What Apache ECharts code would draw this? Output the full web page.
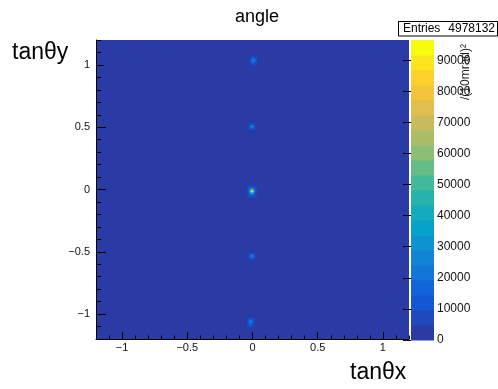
<!DOCTYPE html>
<html>
<head>
<meta charset="utf-8">
<script src="https://cdn.jsdelivr.net/npm/echarts@6/dist/echarts.min.js"></script>
<style>
  html, body { margin: 0; padding: 0; background: #fff; }
  #chart { width: 498px; height: 389px; }
</style>
</head>
<body>
<div id="chart"></div>
<script>
// --- datos del histograma (bins de 10 mrad) ---
const BIN = 0.01;
const ZMAX = 96500;
const N_CONTOURS = 20;
const ENTRIES = "4978132";

const xMajorTicks = [-1, -0.5, 0, 0.5, 1];
const yMajorTicks = [-1, -0.5, 0, 0.5, 1];
const zTicks = [0, 10000, 20000, 30000, 40000, 50000, 60000, 70000, 80000, 90000];

// cada mancha: esquina superior izquierda (centro de bin) + filas de cuentas
const spotTopOrigin = [-0.015, 1.065];
const spotTop = [
  [5200, 8000, 10000, 8000, 5200],
  [8000, 13000, 17000, 13000, 8000],
  [10000, 18000, 24000, 18000, 10000],
  [11000, 20000, 27000, 20000, 11000],
  [10000, 19000, 25000, 19000, 10000],
  [8000, 14000, 18000, 14000, 8000],
  [5200, 9000, 11000, 9000, 5200],
];

const spotHalfOrigin = [-0.025, 0.525];
const spotHalf = [
  [5200, 8000, 10000, 8000, 5200],
  [8000, 16000, 24000, 16000, 8000],
  [10000, 24000, 40000, 24000, 10000],
  [8000, 16000, 24000, 16000, 8000],
  [5200, 8000, 10000, 8000, 5200],
];

const spotCenterOrigin = [-0.035, 0.025];
const spotCenter = [
  [5200, 7000, 9000, 10000, 9000, 7000, 5200],
  [7000, 11000, 16000, 19000, 16000, 11000, 7000],
  [9000, 16000, 28000, 38000, 28000, 16000, 9000],
  [10000, 20000, 46000, 72000, 50000, 20000, 10000],
  [10000, 22000, 54000, 96000, 66000, 22000, 10000],
  [9000, 19000, 40000, 58000, 42000, 19000, 9000],
  [8000, 15000, 25000, 31000, 25000, 15000, 8000],
  [7000, 11000, 16000, 18000, 16000, 11000, 7000],
  [5200, 7000, 9000, 10000, 9000, 7000, 5200],
];

const spotLowOrigin = [-0.025, -0.515];
const spotLow = [
  [5200, 8000, 10000, 8000, 5200],
  [8000, 15000, 21000, 15000, 8000],
  [10000, 21000, 30000, 21000, 10000],
  [8000, 15000, 21000, 15000, 8000],
  [5200, 8000, 10000, 8000, 5200],
];

const spotBottomOrigin = [-0.035, -1.035];
const spotBottom = [
  [5200, 8000, 10000, 8000, 5200],
  [8000, 14000, 18000, 14000, 8000],
  [10000, 18000, 25000, 18000, 10000],
  [10000, 19000, 27000, 19000, 10000],
  [9000, 16000, 21000, 16000, 9000],
  [7000, 12000, 15000, 12000, 7000],
  [5200, 8000, 10000, 8000, 5200],
];

// bins aislados con pocas cuentas cerca de los bordes
const strayBins = [
  [-1.095, 1.175, 5500], [-0.975, 1.175, 5500], [-0.795, 1.185, 5500],
  [-1.065, 1.105, 5500], [-0.945, 1.055, 5500], [-1.135, 0.995, 5500],
  [-0.615, 1.115, 5500], [0.765, 1.165, 5500], [0.935, 1.115, 5500],
  [1.085, 1.175, 5500], [1.105, 0.965, 5500], [1.165, 0.915, 5500],
  [1.055, -0.875, 5500], [1.085, -1.015, 5500], [1.125, -1.095, 5500],
  [1.175, -1.135, 5500], [-1.155, -0.795, 5500], [-1.145, -1.115, 5500],
];

// --- paleta kBird (con el primer color ajustado al azul de la imagen) ---
const birdStops = [
  [0.17, 0.23, 0.65], [0.0592, 0.3599, 0.8684], [0.0780, 0.5041, 0.8385],
  [0.0232, 0.6419, 0.7914], [0.1802, 0.7178, 0.6425], [0.5301, 0.7492, 0.4662],
  [0.8186, 0.7328, 0.3499], [0.9956, 0.7862, 0.1968], [0.9764, 0.9832, 0.0539],
];

function birdColor(t) {
  const s = t * (birdStops.length - 1);
  const i = Math.min(Math.floor(s), birdStops.length - 2);
  const f = s - i;
  const c = birdStops[i].map((v, k) => Math.round(255 * (v + (birdStops[i + 1][k] - v) * f)));
  return "rgb(" + c.join(",") + ")";
}

const bandColors = [];
const pieces = [];
const colorbarData = [];
for (let i = 0; i < N_CONTOURS; i++) {
  const lo = (ZMAX * i) / N_CONTOURS;
  const hi = (ZMAX * (i + 1)) / N_CONTOURS;
  const color = birdColor(i / (N_CONTOURS - 1));
  bandColors.push(color);
  pieces.push({ gte: lo, lt: i === N_CONTOURS - 1 ? Infinity : hi, color: color });
  colorbarData.push([lo, hi, (lo + hi) / 2]);
}

function spotCells(origin, rows) {
  const cells = [];
  rows.forEach((row, r) => {
    row.forEach((v, c) => {
      if (v > 0) cells.push([origin[0] + c * BIN, origin[1] - r * BIN, v]);
    });
  });
  return cells;
}

const cells = [].concat(
  strayBins,
  spotCells(spotTopOrigin, spotTop),
  spotCells(spotHalfOrigin, spotHalf),
  spotCells(spotCenterOrigin, spotCenter),
  spotCells(spotLowOrigin, spotLow),
  spotCells(spotBottomOrigin, spotBottom)
);

function renderCell(params, api) {
  const x = api.value(0);
  const y = api.value(1);
  const p0 = api.coord([x - BIN / 2, y + BIN / 2]);
  const p1 = api.coord([x + BIN / 2, y - BIN / 2]);
  return {
    type: "rect",
    shape: { x: p0[0], y: p0[1], width: p1[0] - p0[0] + 0.4, height: p1[1] - p0[1] + 0.4 },
    style: { fill: api.visual("color") },
  };
}

function renderBand(params, api) {
  const p0 = api.coord([0, api.value(1)]);
  const p1 = api.coord([1, api.value(0)]);
  return {
    type: "rect",
    shape: { x: p0[0], y: p0[1], width: p1[0] - p0[0], height: p1[1] - p0[1] + 0.5 },
    style: { fill: api.visual("color") },
  };
}

const fmtNum = (v) => (v < 0 ? "\u2212" + Math.abs(v) : String(v));
const FONT = "Liberation Sans, Arial, sans-serif";

const chart = echarts.init(document.getElementById("chart"));
chart.setOption({
  animation: false,
  textStyle: { fontFamily: FONT },
  title: {
    text: "angle",
    left: 252,
    textAlign: "center",
    top: 3,
    textStyle: { fontSize: 18, fontWeight: "normal", color: "#000", fontFamily: FONT },
  },
  grid: [
    { left: 96, right: 89, top: 40, bottom: 50, show: true, backgroundColor: bandColors[0], borderWidth: 0 },
    { left: 411, right: 64, top: 40, bottom: 49 },
  ],
  visualMap: {
    type: "piecewise",
    show: false,
    dimension: 2,
    seriesIndex: [0, 1],
    pieces: pieces,
  },
  xAxis: [
    {
      type: "value", gridIndex: 0, min: -1.2, max: 1.2, interval: 0.1,
      axisLine: { onZero: false, lineStyle: { color: "#000", width: 1 } },
      axisTick: { inside: true, length: 3.5, lineStyle: { color: "#000" } },
      axisLabel: { show: false },
      splitLine: { show: false },
    },
    {
      type: "value", gridIndex: 0, position: "bottom", min: -1.2, max: 1.2,
      axisLine: { show: false, onZero: false },
      axisTick: { inside: true, length: 7, customValues: xMajorTicks, lineStyle: { color: "#000" } },
      axisLabel: { customValues: xMajorTicks, formatter: fmtNum, fontSize: 11, color: "#111", margin: 3 },
      splitLine: { show: false },
    },
    { type: "value", gridIndex: 1, min: 0, max: 1, show: false },
  ],
  yAxis: [
    {
      type: "value", gridIndex: 0, min: -1.2, max: 1.2, interval: 0.1,
      axisLine: { onZero: false, lineStyle: { color: "#000", width: 1 } },
      axisTick: { inside: true, length: 5, lineStyle: { color: "#000" } },
      axisLabel: { show: false },
      splitLine: { show: false },
    },
    {
      type: "value", gridIndex: 0, position: "left", min: -1.2, max: 1.2,
      axisLine: { show: false, onZero: false },
      axisTick: { inside: true, length: 10, customValues: yMajorTicks, lineStyle: { color: "#000" } },
      axisLabel: { customValues: yMajorTicks, formatter: fmtNum, fontSize: 11, color: "#111", margin: 6 },
      splitLine: { show: false },
    },
    {
      type: "value", gridIndex: 1, position: "right", min: 0, max: ZMAX,
      axisLine: { show: false },
      axisTick: { inside: true, length: 8, customValues: zTicks, lineStyle: { color: "#000", width: 1 } },
      axisLabel: { customValues: zTicks, formatter: (v) => String(v), fontSize: 12, color: "#111", margin: 3 },
      splitLine: { show: false },
    },
  ],
  series: [
    {
      type: "custom", xAxisIndex: 0, yAxisIndex: 0,
      renderItem: renderCell, data: cells, silent: true,
    },
    {
      type: "custom", xAxisIndex: 2, yAxisIndex: 2,
      renderItem: renderBand, data: colorbarData, silent: true,
    },
  ],
  graphic: [
    {
      type: "text", left: 12, top: 41,
      style: { text: "tan\u03b8y", fontSize: 23, fill: "#000", fontFamily: FONT },
    },
    {
      type: "text", left: 350, top: 361,
      style: { text: "tan\u03b8x", fontSize: 23, fill: "#000", fontFamily: FONT },
    },
    {
      type: "rect",
      shape: { x: 398.5, y: 21.5, width: 99, height: 14.5 },
      style: { fill: "#fff", stroke: "#000", lineWidth: 1 },
      z: 10,
    },
    {
      type: "text", x: 403, y: 29, z: 11,
      style: { text: "Entries", fontSize: 12, fill: "#000", verticalAlign: "middle", fontFamily: FONT },
    },
    {
      type: "text", x: 495, y: 29, z: 11,
      style: { text: ENTRIES, fontSize: 12, fill: "#000", align: "right", verticalAlign: "middle", fontFamily: FONT },
    },
    {
      type: "text", x: 466, y: 72, rotation: Math.PI / 2, z: 11,
      style: { text: "/(10mrad)\u00b2", fontSize: 12, fill: "#222", align: "center", verticalAlign: "middle", fontFamily: FONT },
    },
  ],
});
</script>
</body>
</html>
